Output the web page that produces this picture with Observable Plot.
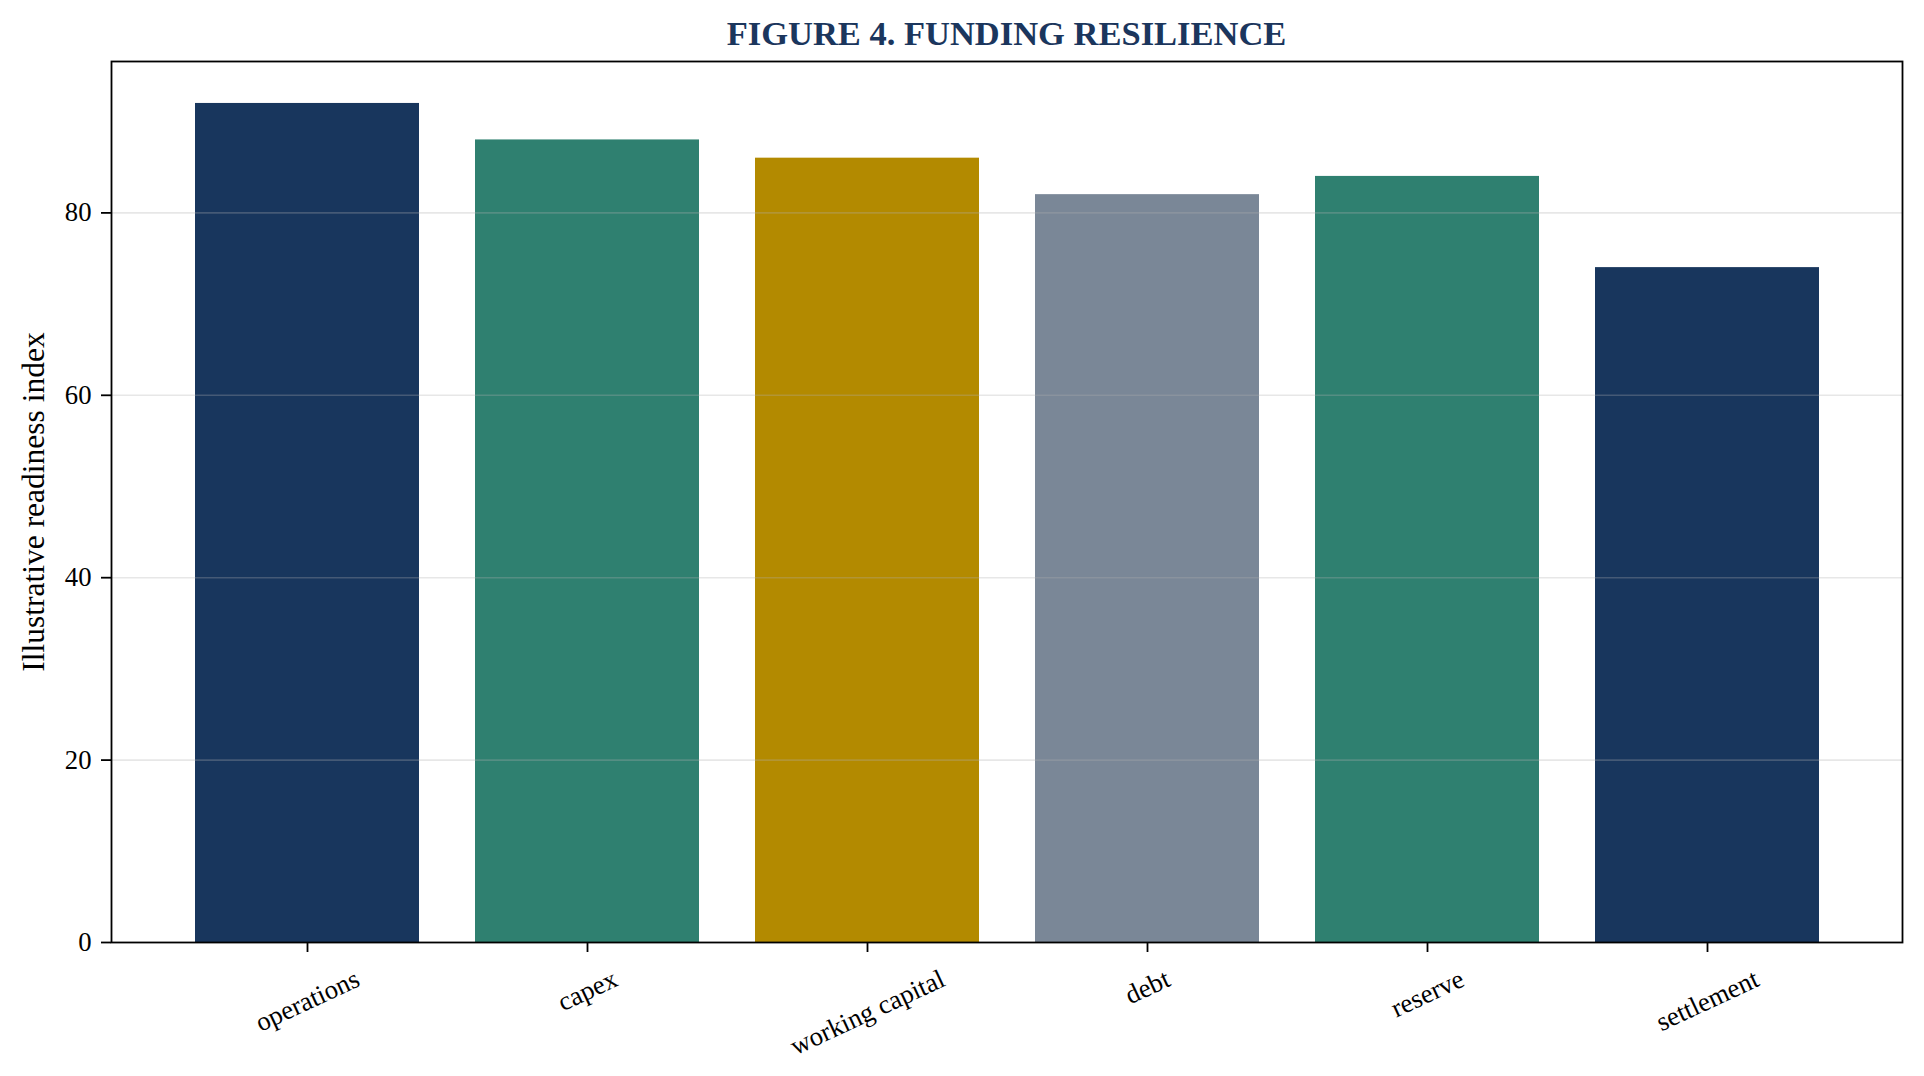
<!DOCTYPE html>
<html><head><meta charset="utf-8">
<script src="https://cdn.jsdelivr.net/npm/d3@7"></script>
<script src="https://cdn.jsdelivr.net/npm/@observablehq/plot@0.6"></script>
<style>
body{margin:0;background:#fff;}
#title{margin-left:111px;width:1791px;height:50px;box-sizing:border-box;padding-top:16px;font:bold 34.5px/34px "Liberation Serif","Times New Roman",serif;color:#1b365d;text-align:center;white-space:nowrap;}
#chart svg{display:block;}
</style></head><body>
<div id="title">FIGURE 4. FUNDING RESILIENCE</div>
<div id="chart"></div>
<script>
const categories = ["operations", "capex", "working capital", "debt", "reserve", "settlement"];
const values = [92, 88, 86, 82, 84, 74];
const colors = ["#18365d", "#2f8070", "#b38a00", "#7a8797", "#2f8070", "#18365d"];
const yTicks = [0, 20, 40, 60, 80];
const gridTicks = [20, 40, 60, 80];
const yLabel = "Illustrative readiness index";

const data = categories.map((c, i) => ({category: c, value: values[i], color: colors[i]}));
const fontFamily = '"Liberation Serif", "Times New Roman", serif';
const tickFont = 26.7;

const plot = Plot.plot({
  width: 1924, height: 1026,
  marginTop: 11, marginBottom: 134, marginLeft: 111, marginRight: 22,
  style: {fontFamily, fontSize: tickFont + "px", color: "#000", background: "#fff"},
  x: {domain: categories, paddingInner: 0.2, paddingOuter: 0.29},
  y: {domain: [0, 96.6]},
  marks: [
    Plot.barY(data, {x: "category", y: "value", fill: "color"}),
    Plot.ruleY(gridTicks, {stroke: "#b0b0b0", strokeOpacity: 0.3, strokeWidth: 1.6}),
    Plot.frame({stroke: "#000", strokeWidth: 1.8}),
    Plot.axisY(yTicks, {tickSize: 10, tickPadding: 10, strokeWidth: 1.8, stroke: "#000", fill: "#000", fontSize: tickFont, label: null}),
    Plot.axisX({tickSize: 10, strokeWidth: 1.8, stroke: "#000", tickFormat: () => "", label: null}),
    Plot.text(categories, {x: d => d, frameAnchor: "bottom", rotate: -25, textAnchor: "middle", lineAnchor: "middle", dy: 24, fontSize: tickFont, fill: "#000", className: "xlab"}),
    Plot.text([yLabel], {frameAnchor: "left", rotate: -90, textAnchor: "middle", lineAnchor: "bottom", dx: -68, fontSize: 31.5, fill: "#000"})
  ]
});
document.getElementById("chart").appendChild(plot);

// place rotated x labels like matplotlib: top of rotated box fixed below axis
const a = 25 * Math.PI / 180;
d3.select(plot).selectAll("g.xlab text").each(function() {
  const w = this.getComputedTextLength();
  const h = tickFont * 0.9;
  const half = (w * Math.sin(a) + h * Math.cos(a)) / 2;
  const t = this.getAttribute("transform") || "";
  this.setAttribute("transform", `translate(0,${half}) ` + t);
});
</script>
</body></html>
